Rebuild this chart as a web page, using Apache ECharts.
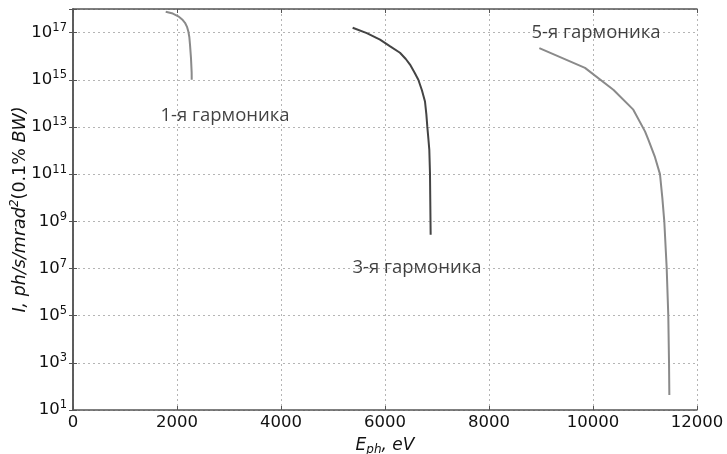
<!DOCTYPE html>
<html>
<head>
<meta charset="utf-8">
<script src="https://cdn.jsdelivr.net/npm/echarts@6/dist/echarts.min.js"></script>
<style>
  html, body { margin: 0; padding: 0; background: #fff; }
  #chart { width: 727px; height: 454px; }
</style>
</head>
<body>
<div id="chart"></div>
<script>
// photon energy, eV / intensity, ph/s/mrad^2(0.1% BW)
const energy1 = [1783, 1920, 2025, 2100, 2154, 2195, 2217, 2237, 2250, 2269, 2282, 2283];
const flux1 = [7.6e17, 6.4e17, 4.9e17, 3.6e17, 2.6e17, 1.7e17, 1.15e17, 6.5e16, 3.1e16, 8.3e15, 2.0e15, 1.0e15];

const energy3 = [5378, 5650, 5904, 6100, 6288, 6400, 6481, 6570, 6641, 6710, 6769, 6795, 6814, 6835, 6852, 6865, 6875, 6878];
const flux3 = [1.6e17, 9.5e16, 5.0e16, 2.6e16, 1.4e16, 7.6e15, 4.4e15, 2.0e15, 1.0e15, 3.6e14, 1.2e14, 3.5e13, 1.0e13, 3.0e12, 1.1e12, 1.1e11, 1.0e9, 2.7e8];

const energy5 = [8968, 9846, 10391, 10775, 11000, 11064, 11192, 11288, 11333, 11371, 11417, 11448, 11462, 11468];
const flux5 = [2.2e16, 3.2e15, 3.8e14, 5.4e13, 6.5e12, 2.9e12, 5.2e11, 1.0e11, 1.0e10, 1.0e9, 1.05e7, 1.0e5, 1.0e3, 4.3e1];

const labels = ['1-я гармоника', '3-я гармоника', '5-я гармоника'];
const labelEnergy = [2923, 6615, 10058];
const labelFlux = [3.0e13, 1.1e7, 1.0e17];

const xTicks = [0, 2000, 4000, 6000, 8000, 10000, 12000];

// y axis is drawn in decades, ticks every second power
const toPoints = (xs, ys) => xs.map((x, i) => [x, Math.log10(ys[i])]);

const chart = echarts.init(document.getElementById('chart'));

const tickFont = 'DejaVu Sans';
const frame = { lineStyle: { color: '#555', width: 1.5 } };
const grid = { show: true, lineStyle: { color: '#b5b5b5', type: [2, 3], width: 1 } };

const option = {
  animation: false,
  grid: { left: 73, right: 30, top: 9, bottom: 44, containLabel: false, outerBoundsMode: 'none' },
  xAxis: [
    {
      type: 'value',
      min: xTicks[0],
      max: xTicks[xTicks.length - 1],
      interval: 2000,
      axisLine: frame,
      axisTick: { inside: true, length: 4, lineStyle: { color: '#555' } },
      splitLine: grid,
      axisLabel: { fontFamily: tickFont, fontSize: 16.5, color: '#111', margin: 4, formatter: (v) => String(v) },
      name: '{i|E}{sub|ph}{i|, eV}',
      nameLocation: 'middle',
      nameGap: 26,
      nameMoveOverlap: false,
      nameTextStyle: {
        rich: {
          i: { fontFamily: tickFont, fontStyle: 'italic', fontSize: 17, color: '#111' },
          sub: { fontFamily: tickFont, fontStyle: 'italic', fontSize: 12, color: '#111', padding: [8, 0, 0, 0] }
        }
      }
    },
    {
      type: 'value',
      position: 'top',
      min: xTicks[0],
      max: xTicks[xTicks.length - 1],
      interval: 2000,
      axisLine: frame,
      axisTick: { inside: true, length: 4, lineStyle: { color: '#555' } },
      axisLabel: { show: false },
      splitLine: { show: false }
    }
  ],
  yAxis: [
    {
      type: 'value',
      min: 1,
      max: 18,
      interval: 2,
      axisLine: frame,
      axisTick: { inside: true, length: 4, lineStyle: { color: '#555' } },
      splitLine: grid,
      axisLabel: {
        margin: 6,
        formatter: (v) => (v % 2 === 1 ? '{b|10}{s|' + v + '}' : ''),
        rich: {
          b: { fontFamily: tickFont, fontSize: 16.5, color: '#111' },
          s: { fontFamily: tickFont, fontSize: 11.5, color: '#111', padding: [0, 0, 9, 0] }
        }
      },
      name: '{i|I, ph/s/mrad}{s|2}{n|(0.1% }{i|BW)}',
      nameLocation: 'middle',
      nameGap: 42,
      nameMoveOverlap: false,
      nameTextStyle: {
        rich: {
          i: { fontFamily: tickFont, fontStyle: 'italic', fontSize: 17.5, color: '#111' },
          s: { fontFamily: tickFont, fontStyle: 'italic', fontSize: 12, color: '#111', padding: [0, 0, 10, 0] },
          n: { fontFamily: tickFont, fontSize: 17.5, color: '#111' }
        }
      }
    },
    {
      type: 'value',
      position: 'right',
      min: 1,
      max: 18,
      interval: 2,
      axisLine: frame,
      axisTick: { inside: true, length: 4, lineStyle: { color: '#555' } },
      axisLabel: { show: false },
      splitLine: { show: false }
    }
  ],
  series: [
    {
      type: 'line',
      data: toPoints(energy1, flux1),
      showSymbol: false,
      lineStyle: { color: '#8a8a8a', width: 2 }
    },
    {
      type: 'line',
      data: toPoints(energy3, flux3),
      showSymbol: false,
      lineStyle: { color: '#444', width: 2 }
    },
    {
      type: 'line',
      data: toPoints(energy5, flux5),
      showSymbol: false,
      lineStyle: { color: '#8a8a8a', width: 2 }
    },
    {
      type: 'scatter',
      symbolSize: 0,
      silent: true,
      data: labels.map((t, i) => ({ name: t, value: [labelEnergy[i], Math.log10(labelFlux[i])] })),
      label: {
        show: true,
        position: 'inside',
        formatter: '{b}',
        fontFamily: 'Open Sans',
        fontSize: 18.5,
        color: '#111'
      }
    }
  ]
};

chart.setOption(option);
</script>
</body>
</html>
